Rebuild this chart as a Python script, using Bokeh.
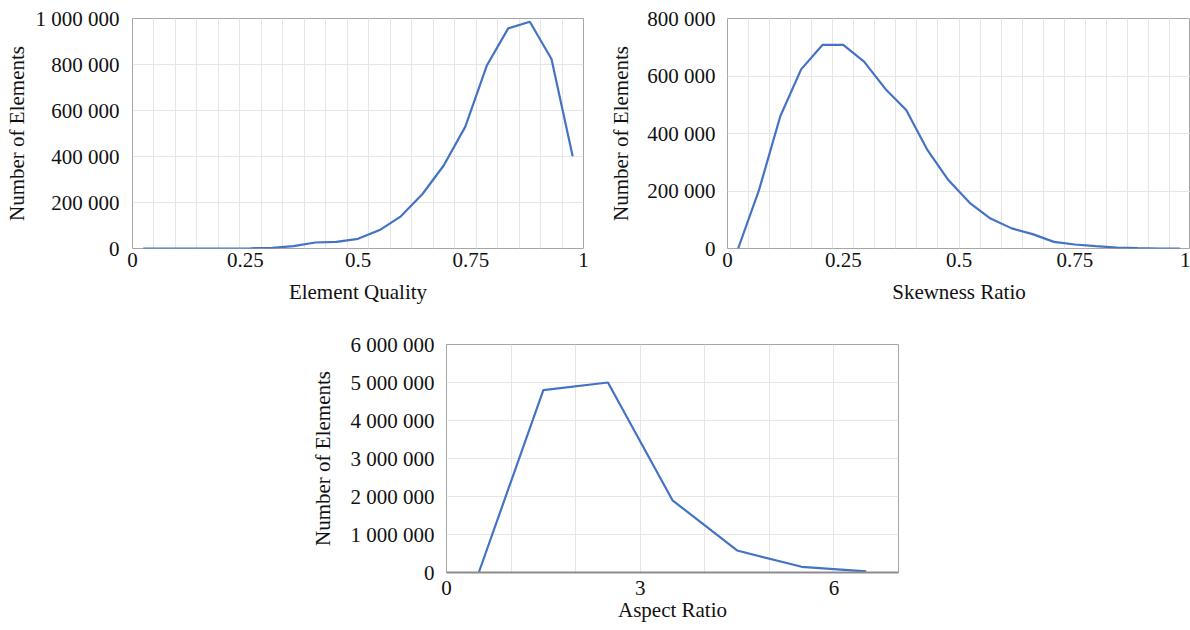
from bokeh.plotting import figure
from bokeh.layouts import column, row
from bokeh.models import Spacer, FixedTicker
from bokeh.embed import file_html
from bokeh.resources import INLINE

# ---------------- data ----------------
# Element Quality (21 bins over 0..1, bin centres)
eq_x = [0.024, 0.071, 0.119, 0.167, 0.214, 0.262, 0.310, 0.357, 0.405, 0.452, 0.500,
        0.548, 0.595, 0.643, 0.690, 0.738, 0.786, 0.833, 0.881, 0.929, 0.976]
eq_y = [0, 0, 0, 0, 0, 1000, 3000, 10000, 26000, 29000, 42000,
        80000, 140000, 237000, 361000, 530000, 797000, 957000, 986000, 824000, 401000]
eq_xticks = [0, 0.25, 0.5, 0.75, 1]
eq_xlabels = ["0", "0.25", "0.5", "0.75", "1"]
eq_yticks = [0, 200000, 400000, 600000, 800000, 1000000]

# Skewness Ratio (22 bins over 0..1, bin centres)
sk_x = [0.023, 0.068, 0.114, 0.159, 0.205, 0.250, 0.295, 0.341, 0.386, 0.432, 0.477,
        0.523, 0.568, 0.614, 0.659, 0.705, 0.750, 0.795, 0.841, 0.886, 0.932, 0.977]
sk_y = [0, 203000, 460000, 623000, 708000, 708000, 650000, 555000, 482000, 342000, 238000,
        159000, 104000, 70000, 50000, 23000, 14000, 8000, 3000, 1000, 0, 0]
sk_xticks = [0, 0.25, 0.5, 0.75, 1]
sk_xlabels = ["0", "0.25", "0.5", "0.75", "1"]
sk_yticks = [0, 200000, 400000, 600000, 800000]

# Aspect Ratio
ar_x = [0.5, 1.5, 2.5, 3.5, 4.5, 5.5, 6.5]
ar_y = [0, 4800000, 5000000, 1900000, 580000, 150000, 30000]
ar_xticks = [0, 3, 6]
ar_xlabels = ["0", "3", "6"]
ar_yticks = [0, 1000000, 2000000, 3000000, 4000000, 5000000, 6000000]

FONT = "Liberation Serif"
LINE = "#4472C4"
GRID = "#e6e6e6"
FRAME = "#a6a6a6"
FS = "21px"


def fmt(v):
    return f"{v:,}".replace(",", " ")


def make(xr, yr, xticks, xlabels, yticks, xgrid, xtitle, w, h,
         bl, bt, br, bb, ylab_standoff, ytitle_standoff, xlab_standoff, xtitle_standoff):
    p = figure(width=w, height=h, x_range=xr, y_range=yr,
               output_backend="svg", toolbar_location=None,
               min_border_left=bl, min_border_top=bt,
               min_border_right=br, min_border_bottom=bb)
    p.background_fill_color = "white"
    p.border_fill_color = "white"
    p.outline_line_color = FRAME
    p.outline_line_width = 1

    p.xaxis.ticker = FixedTicker(ticks=xticks)
    p.xaxis.major_label_overrides = {t: l for t, l in zip(xticks, xlabels)}
    p.yaxis.ticker = FixedTicker(ticks=yticks)
    p.yaxis.major_label_overrides = {t: fmt(t) for t in yticks}

    for ax in (p.xaxis[0], p.yaxis[0]):
        ax.axis_line_color = None
        ax.major_tick_line_color = None
        ax.minor_tick_line_color = None
        ax.major_tick_out = 0
        ax.major_tick_in = 0
        ax.minor_tick_out = 0
        ax.minor_tick_in = 0
        ax.major_label_text_font = FONT
        ax.major_label_text_font_size = FS
        ax.major_label_text_color = "#111111"
        ax.axis_label_text_font = FONT
        ax.axis_label_text_font_size = FS
        ax.axis_label_text_font_style = "normal"
        ax.axis_label_text_color = "#111111"
    p.xaxis.major_label_standoff = xlab_standoff
    p.xaxis.axis_label_standoff = xtitle_standoff
    p.yaxis.major_label_standoff = ylab_standoff
    p.yaxis.axis_label_standoff = ytitle_standoff
    p.xaxis.axis_label = xtitle
    p.yaxis.axis_label = "Number of Elements"

    p.xgrid.ticker = FixedTicker(ticks=xgrid)
    p.ygrid.ticker = FixedTicker(ticks=yticks)
    p.xgrid.grid_line_color = GRID
    p.ygrid.grid_line_color = GRID
    return p


# grid positions at bin boundaries
g1 = [k / 21 for k in range(22)]
g2 = [k / 22 for k in range(23)]
g3 = [0, 1, 2, 3, 4, 5, 6, 7]

p1 = make((0, 1), (0, 1000000), eq_xticks, eq_xlabels, eq_yticks, g1,
          "Element Quality", 600, 312, 132, 17, 17, 64, 13, 4, 4, 10)
p1.line(eq_x, eq_y, line_color=LINE, line_width=2.2)

p2 = make((0, 1), (0, 800000), sk_xticks, sk_xlabels, sk_yticks, g2,
          "Skewness Ratio", 590, 312, 127, 18, 0, 64, 12, 11, 4, 10)
p2.line(sk_x, sk_y, line_color=LINE, line_width=2.2)

p3 = make((0, 7), (0, 6000000), ar_xticks, ar_xlabels, ar_yticks, g3,
          "Aspect Ratio", 618, 318, 146, 32, 20, 58, 12, 13, 8, 0)
p3.xaxis.axis_line_color = "#8c8c8c"
p3.xaxis.axis_line_width = 2
p3.line(ar_x, ar_y, line_color=LINE, line_width=2.2)

layout = column(row(p1, p2), row(Spacer(width=300, height=10), p3))

open("out.html", "w").write(file_html(layout, INLINE))
